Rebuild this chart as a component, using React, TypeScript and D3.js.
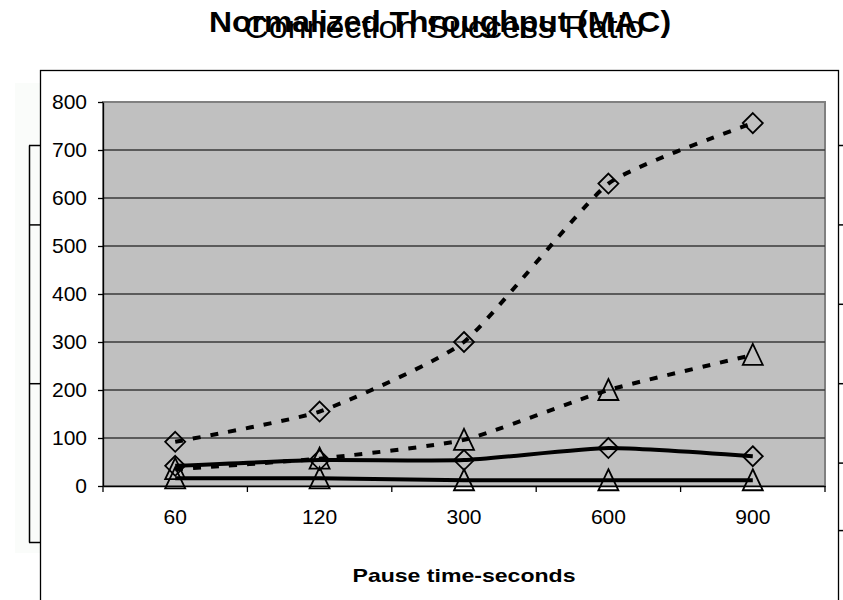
import * as d3 from 'd3'
import { useEffect, useRef } from 'react'

const pauseTimes = ['60', '120', '300', '600', '900']
const dashedDiamond = [92, 155, 300, 630, 756]
const dashedTriangle = [35, 57, 96, 200, 273]
const solidDiamond = [42, 54, 54, 79, 62]
const solidTriangle = [16, 16, 12, 12, 12]
const yTicks = [0, 100, 200, 300, 400, 500, 600, 700, 800]
// leftovers of a second chart sitting under this one
const ghostLeftTicks = [0, 0.4, 0.8, 1]
const ghostRightTicks = [0.03, 0.2, 0.4, 0.6, 0.8, 1]

const titleMain = 'Normalized Throughput (MAC)'
const titleBehind = 'Connection Success Ratio'
const xTitle = 'Pause time-seconds'

const font = '"Liberation Sans", Arial, sans-serif'

export default function App() {
    const svgRef = useRef<SVGSVGElement>(null)

    useEffect(() => {
        makeChart(svgRef)
    }, [])

    function makeChart(svgRef: React.RefObject<SVGSVGElement | null>) {
        const width = 843
        const height = 600
        const left = 103
        const right = 825
        const top = 102
        const bottom = 486

        const svg = d3.select(svgRef.current).attr('width', width).attr('height', height)
        svg.selectAll('*').remove()

        svg.append('rect').attr('width', width).attr('height', height).attr('fill', '#fff')
        svg.append('rect').attr('x', 15).attr('y', 83).attr('width', 25).attr('height', 470).attr('fill', '#fafcfa')

        // outer chart frame
        svg.append('rect').attr('x', 40.5).attr('y', 70.5).attr('width', 798).attr('height', 560)
            .attr('fill', '#fff').attr('stroke', '#000').attr('stroke-width', 1.3)

        const ghost = d3.scaleLinear().domain([0, 1]).range([542, 145])
        const gl = svg.append('g').attr('transform', 'translate(29,0)')
            .call(d3.axisRight(ghost).tickValues(ghostLeftTicks).tickSize(11).tickSizeOuter(0).tickFormat(() => ''))
        gl.selectAll('line,path').attr('stroke', '#000').attr('stroke-width', 1.5)
        const gr = svg.append('g').attr('transform', 'translate(839,0)')
            .call(d3.axisRight(ghost).tickValues(ghostRightTicks).tickSize(5).tickSizeOuter(0).tickFormat(() => ''))
        gr.select('path').remove()
        gr.selectAll('line').attr('stroke', '#000').attr('stroke-width', 1.5)

        const xScale = d3.scaleBand().domain(pauseTimes).range([left, right])
        const yScale = d3.scaleLinear().domain([0, 800]).range([bottom, top])
        const cx = (d: string) => xScale(d)! + xScale.bandwidth() / 2

        svg.append('rect').attr('x', left).attr('y', top).attr('width', right - left).attr('height', bottom - top)
            .attr('fill', '#c0c0c0').attr('stroke', '#808080').attr('stroke-width', 2)

        svg.append('g').selectAll('line').data(yTicks.filter(t => t > 0 && t < 800)).enter().append('line')
            .attr('x1', left).attr('x2', right)
            .attr('y1', d => yScale(d)).attr('y2', d => yScale(d))
            .attr('stroke', '#3a3a3a').attr('stroke-width', 1.3)

        const ya = svg.append('g').attr('transform', `translate(${left},0)`)
            .call(d3.axisLeft(yScale).tickValues(yTicks).tickSize(5).tickSizeOuter(0).tickPadding(11))
        ya.selectAll('line,path').attr('stroke', '#000').attr('stroke-width', 1.3)
        ya.selectAll('text').attr('font-family', font).attr('font-size', 21).attr('fill', '#000')

        const xa = svg.append('g').attr('transform', `translate(0,${bottom})`)
            .call(d3.axisBottom(xScale).tickSize(0).tickPadding(23))
        xa.select('path').attr('stroke', '#000').attr('stroke-width', 1.5)
        xa.selectAll('text').attr('font-family', font).attr('font-size', 21).attr('fill', '#000')

        const edges = [...pauseTimes.map(d => xScale(d)!), right]
        svg.append('g').selectAll('line').data(edges).enter().append('line')
            .attr('x1', d => d).attr('x2', d => d).attr('y1', bottom).attr('y2', bottom + 6)
            .attr('stroke', '#000').attr('stroke-width', 1.3)

        const series = [
            { values: dashedDiamond, dashed: true, marker: 'diamond' },
            { values: dashedTriangle, dashed: true, marker: 'triangle' },
            { values: solidDiamond, dashed: false, marker: 'diamond' },
            { values: solidTriangle, dashed: false, marker: 'triangle' },
        ]

        const line = d3.line<number>()
            .x((_, i) => cx(pauseTimes[i]))
            .y(d => yScale(d))
            .curve(d3.curveCardinal.tension(0.5))

        series.forEach(s => {
            svg.append('path').attr('d', line(s.values)).attr('fill', 'none')
                .attr('stroke', '#000').attr('stroke-width', 4)
                .attr('stroke-dasharray', s.dashed ? '8,10' : null)
        })

        const diamond = 'M0,-10L10,0L0,10L-10,0Z'
        const triangle = 'M0,-11L10,10L-10,10Z'
        series.forEach(s => {
            svg.append('g').selectAll('path').data(s.values).enter().append('path')
                .attr('d', s.marker === 'diamond' ? diamond : triangle)
                .attr('transform', (d, i) => `translate(${cx(pauseTimes[i])},${yScale(d)})`)
                .attr('fill', 'none').attr('stroke', '#000').attr('stroke-width', 1.8)
        })

        svg.append('text').attr('x', 444).attr('y', 38).attr('text-anchor', 'middle')
            .attr('font-family', font).attr('font-size', 31)
            .attr('textLength', 400).attr('lengthAdjust', 'spacingAndGlyphs').text(titleBehind)
        svg.append('text').attr('x', 440).attr('y', 32).attr('text-anchor', 'middle')
            .attr('font-family', font).attr('font-size', 30).attr('font-weight', 'bold')
            .attr('textLength', 462).attr('lengthAdjust', 'spacingAndGlyphs').text(titleMain)

        svg.append('text').attr('x', (left + right) / 2).attr('y', 582).attr('text-anchor', 'middle')
            .attr('font-family', font).attr('font-size', 19).attr('font-weight', 'bold')
            .attr('textLength', 223).attr('lengthAdjust', 'spacingAndGlyphs').text(xTitle)
    }

    return (
        <svg ref={svgRef} style={{ position: 'absolute', left: 0, top: 0 }}></svg>
    )
}
